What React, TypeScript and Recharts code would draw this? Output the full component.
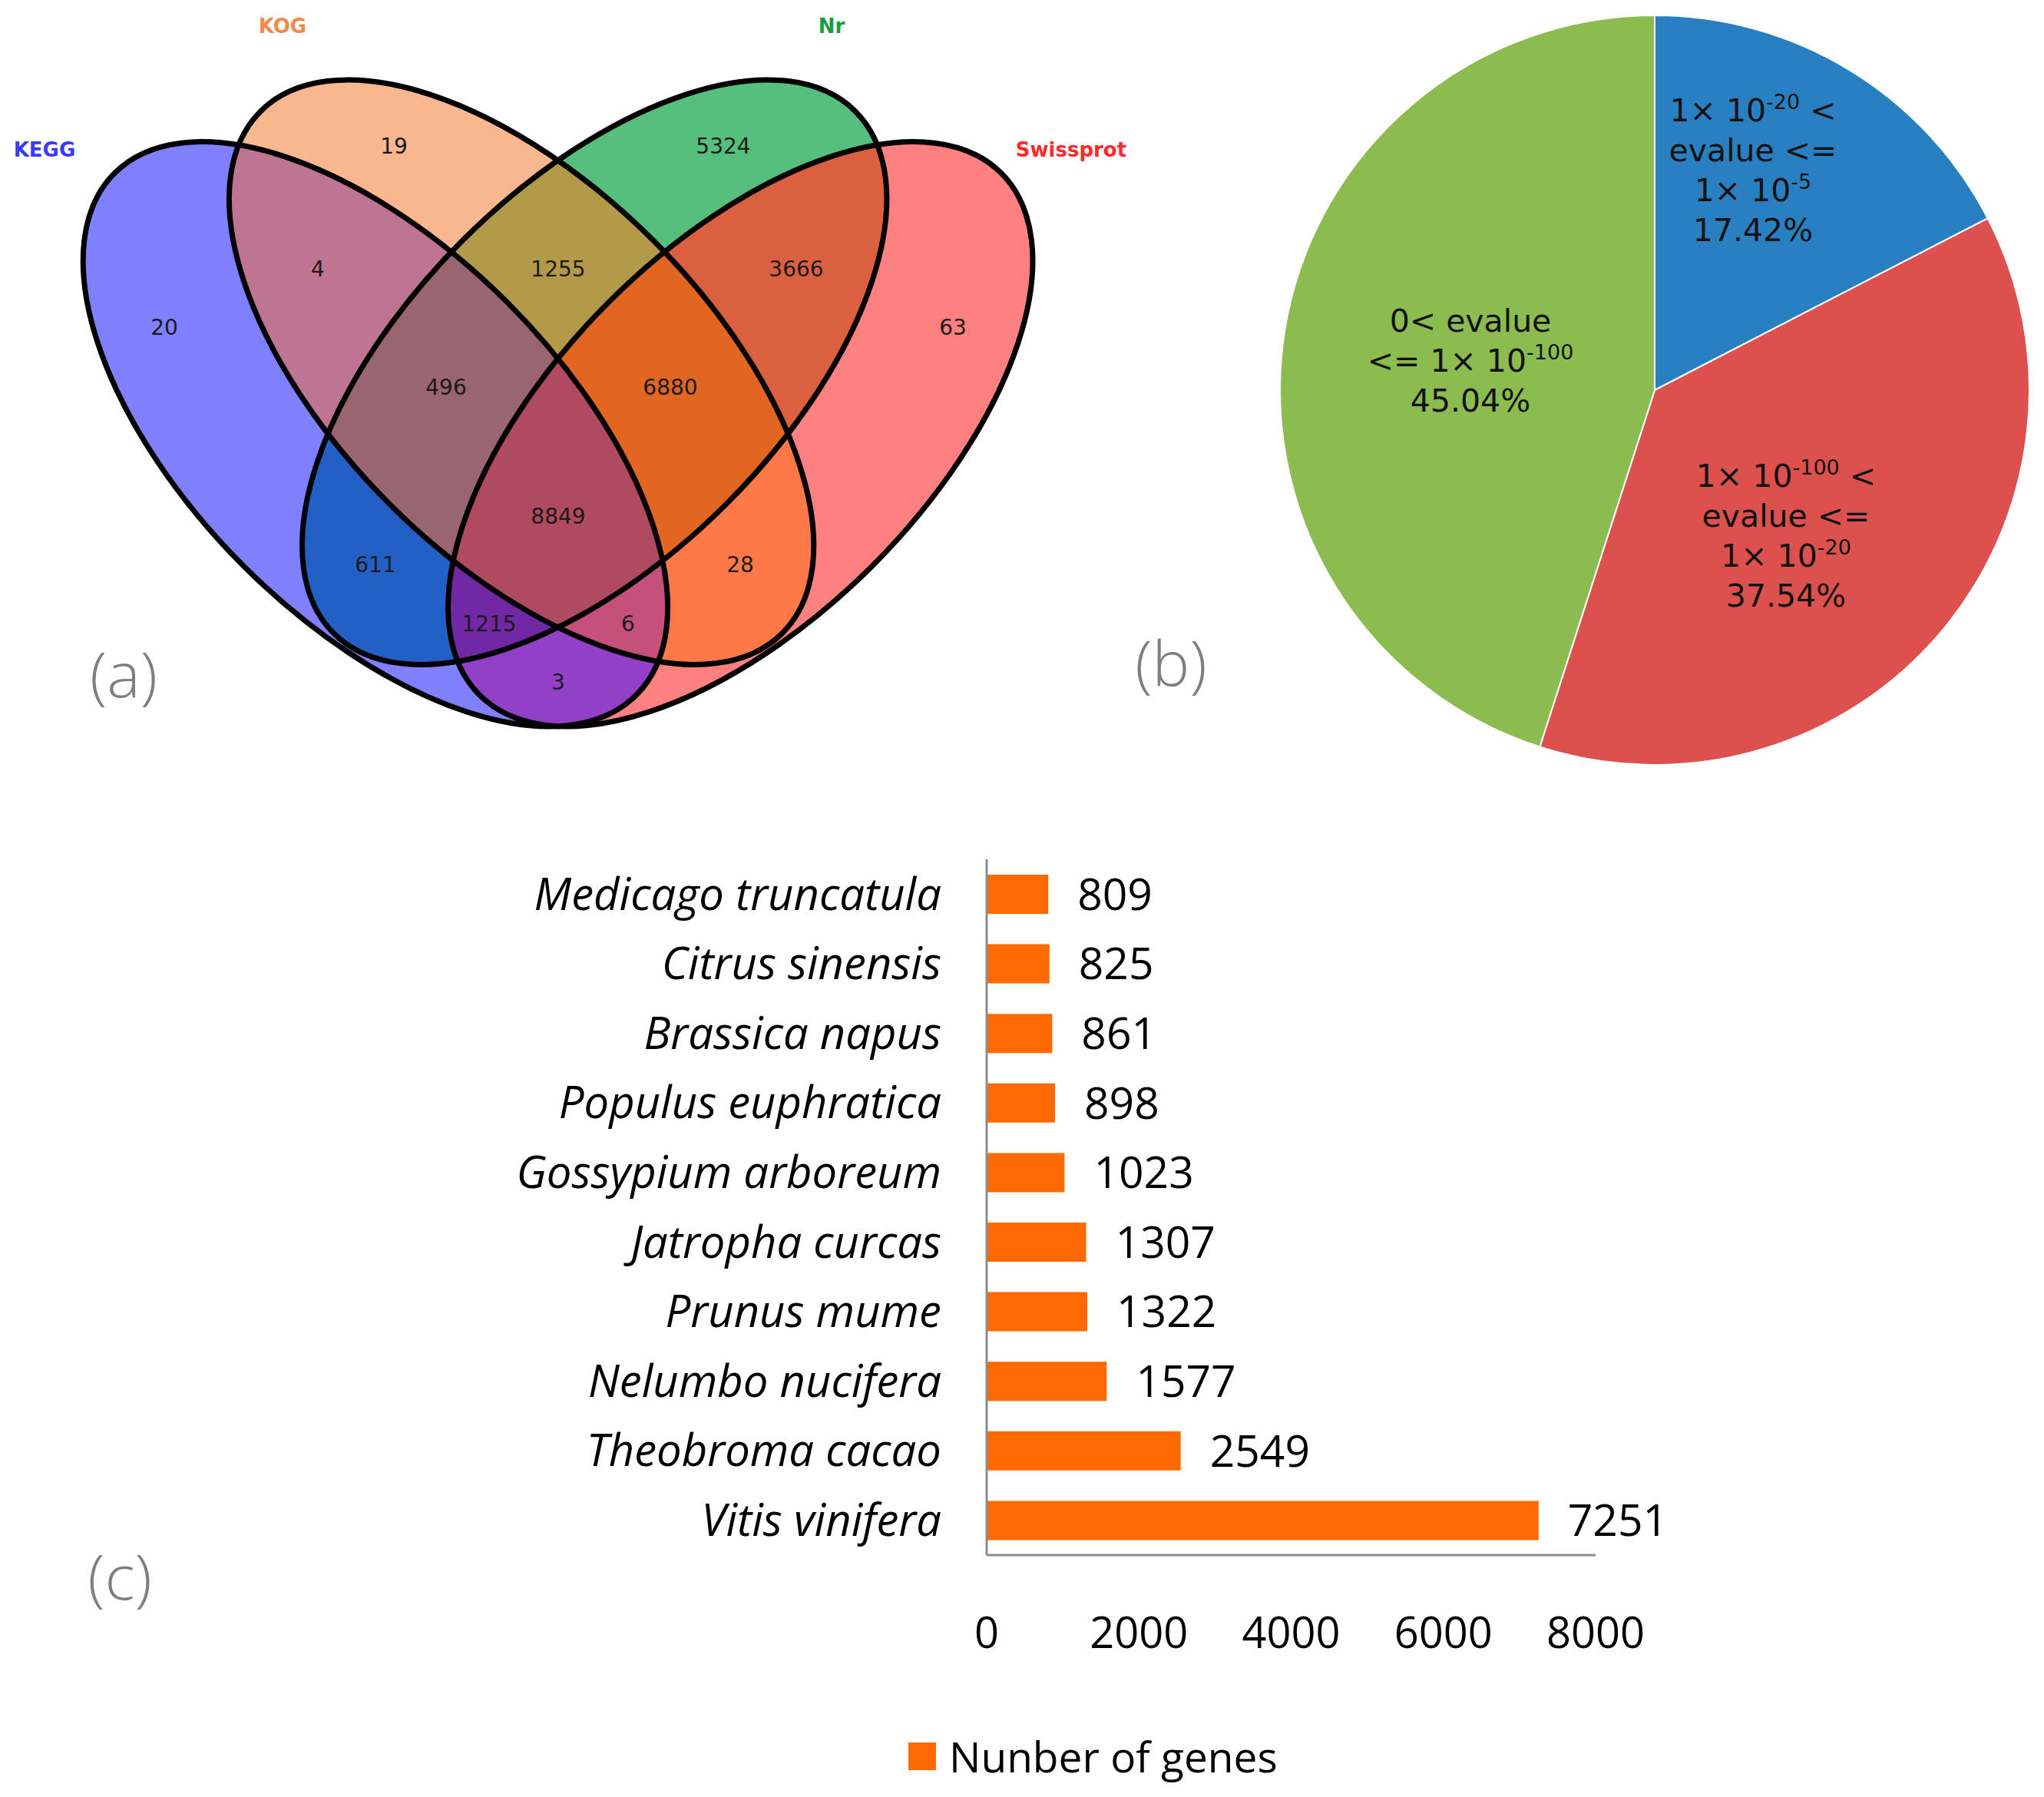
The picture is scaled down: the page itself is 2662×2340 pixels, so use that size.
import React from 'react'
import {
  ScatterChart, Scatter, XAxis, YAxis, Customized,
  PieChart, Pie, Cell, BarChart, Bar, LabelList, Legend,
} from 'recharts'

// ---- (a) venn counts ----
const vennSets = ['KEGG', 'KOG', 'Nr', 'Swissprot']
const vennKeys = ['K', 'O', 'N', 'S', 'KO', 'ON', 'NS', 'KS', 'KN', 'OS', 'KON', 'ONS', 'KNS', 'KOS', 'KONS']
const vennCounts = [20, 19, 5324, 63, 4, 1255, 3666, 3, 611, 28, 496, 6880, 1215, 6, 8849]

// ---- (b) evalue distribution ----
const pieValues = [17.42, 37.54, 45.04]
const pieNames = [
  '1× 10-20 < evalue <= 1× 10-5',
  '1× 10-100 < evalue <= 1× 10-20',
  '0< evalue <= 1× 10-100',
]

// ---- (c) top species ----
const species = [
  'Medicago truncatula', 'Citrus sinensis', 'Brassica napus', 'Populus euphratica',
  'Gossypium arboreum', 'Jatropha curcas', 'Prunus mume', 'Nelumbo nucifera',
  'Theobroma cacao', 'Vitis vinifera',
]
const geneCounts = [809, 825, 861, 898, 1023, 1307, 1322, 1577, 2549, 7251]
const xTicks = [0, 2000, 4000, 6000, 8000]

// layout / style
const SETCHARS = 'KONS'
const ELL = [
  { cx: 488.9, cy: 565.3, rot: 45 },
  { cx: 679.1, cy: 484.7, rot: 45 },
  { cx: 774.2, cy: 484.7, rot: -45 },
  { cx: 964.3, cy: 565.3, rot: -45 },
]
const RX = 480.5
const RY = 242.8
const regionFill: Record<string, string> = {
  K: '#8080FF', O: '#F8B78E', N: '#55C07E', S: '#FF8080',
  KO: '#BD7592', ON: '#B39A48', NS: '#DA6040', KS: '#9340C8', KN: '#2360C6', OS: '#FF7848',
  KON: '#996570', ONS: '#E06622', KNS: '#7028A4', KOS: '#C5507A', KONS: '#B04A60',
}
const vennLabelPos: Record<string, [number, number]> = {
  K: [214, 426], O: [513, 190], N: [942, 190], S: [1241, 426],
  KO: [414, 350], ON: [727, 350], NS: [1037, 350], KS: [727, 888], KN: [489, 735], OS: [964, 735],
  KON: [581, 504], ONS: [873, 504], KNS: [637, 812], KOS: [818, 812], KONS: [727, 672],
}
const setLabelPos: [number, number][] = [[58, 195], [368, 34], [1083, 34], [1395, 195]]
const setColors = ['#3A3AFF', '#F5884A', '#11A03A', '#FF2A2A']
const pieColors = ['#2980C0', '#DC504D', '#8CBB4F']
const pieLabelOffset: [number, number][] = [[128, -286], [171, 190], [-240, -38]]

type Seg = { t: string; sup?: boolean }
const pieLabelLines: Seg[][][] = [
  [[{ t: '1× 10' }, { t: '-20', sup: true }, { t: ' <' }], [{ t: 'evalue <=' }], [{ t: '1× 10' }, { t: '-5', sup: true }]],
  [[{ t: '1× 10' }, { t: '-100', sup: true }, { t: ' <' }], [{ t: 'evalue <=' }], [{ t: '1× 10' }, { t: '-20', sup: true }]],
  [[{ t: '0< evalue' }], [{ t: '<= 1× 10' }, { t: '-100', sup: true }]],
]

const vennData = vennKeys.map((k, i) => ({ key: k, x: vennLabelPos[k][0], y: vennLabelPos[k][1], count: vennCounts[i] }))
const pieData = pieValues.map((v, i) => ({ name: pieNames[i], value: v }))
const barData = species.map((s, i) => ({ name: s, value: geneCounts[i] }))

const SANS = '"Open Sans", sans-serif'
const VENN_FONT = '"DejaVu Sans", sans-serif'

function ellipseEl(i: number, extra: any = {}) {
  const e = ELL[i]
  return <ellipse cx={e.cx} cy={e.cy} rx={RX} ry={RY} transform={`rotate(${e.rot} ${e.cx} ${e.cy})`} {...extra} />
}

function VennShapes() {
  const sorted = [...vennKeys].sort((a, b) => a.length - b.length)
  return (
    <g>
      <defs>
        {ELL.map((_, i) => <clipPath id={`vclip${i}`} key={i}>{ellipseEl(i)}</clipPath>)}
      </defs>
      {sorted.map(key => {
        const idx = key.split('').map(c => SETCHARS.indexOf(c))
        let node = ellipseEl(idx[idx.length - 1], { fill: regionFill[key] })
        for (let j = idx.length - 2; j >= 0; j--) node = <g clipPath={`url(#vclip${idx[j]})`}>{node}</g>
        return <g key={key}>{node}</g>
      })}
      {ELL.map((_, i) => <g key={'o' + i}>{ellipseEl(i, { fill: 'none', stroke: '#000', strokeWidth: 7 })}</g>)}
      {vennSets.map((s, i) => (
        <text key={s} x={setLabelPos[i][0]} y={setLabelPos[i][1]} textAnchor="middle" dominantBaseline="central"
          fontFamily={VENN_FONT} fontWeight="bold" fontSize={26} fill={setColors[i]}>{s}</text>
      ))}
      <text x={161} y={876} textAnchor="middle" dominantBaseline="central" fontFamily={SANS} fontWeight={300} fontSize={82} fill="#7f7f7f">(a)</text>
    </g>
  )
}

function VennCount(props: any) {
  const { cx, cy, payload } = props
  return (
    <text x={cx} y={cy} textAnchor="middle" dominantBaseline="central" fontFamily={VENN_FONT} fontSize={28} fill="#1a1a1a">
      {payload.count}
    </text>
  )
}

function PieLabel(props: any) {
  const { cx, cy, index } = props
  const [dx, dy] = pieLabelOffset[index]
  const lines: Seg[][] = [...pieLabelLines[index], [{ t: pieValues[index].toFixed(2) + '%' }]]
  const n = lines.length
  return (
    <text textAnchor="middle" fontFamily='"DejaVu Sans", sans-serif' fontSize={41} fill="#111">
      {lines.map((segs, li) => {
        const y = cy + dy + (li - (n - 1) / 2) * 52 + 14
        let raised = false
        return (
          <tspan key={li} x={cx + dx} y={y}>
            {segs.map((s, si) => {
              let d = 0
              if (s.sup && !raised) { d = -16; raised = true }
              else if (!s.sup && raised) { d = 16; raised = false }
              return <tspan key={si} dy={d} fontSize={s.sup ? 27 : 41}>{s.t}</tspan>
            })}
          </tspan>
        )
      })}
    </text>
  )
}

function SpeciesTick(props: any) {
  const { x, y, payload } = props
  return (
    <text x={x} y={y} dy="0.35em" textAnchor="end" fontFamily={SANS} fontStyle="italic" fontSize={58} fill="#000">
      {payload.value}
    </text>
  )
}

function PanelLabel({ x, y, t }: { x: number; y: number; t: string }) {
  return <text x={x} y={y} textAnchor="middle" dominantBaseline="central" fontFamily={SANS} fontWeight={300} fontSize={82} fill="#7f7f7f">{t}</text>
}

function GenesLegend() {
  return (
    <div style={{ display: 'flex', alignItems: 'center', height: 60 }}>
      <span style={{ display: 'inline-block', width: 36, height: 36, background: '#FF6A00' }} />
      <span style={{ marginLeft: 17, fontFamily: SANS, fontSize: 55, lineHeight: '60px', color: '#000' }}>Nunber of genes</span>
    </div>
  )
}

export default function App() {
  return (
    <div style={{ position: 'absolute', left: 0, top: 0, width: 2662, height: 2340, background: '#fff' }}>
      <div style={{ position: 'absolute', left: 0, top: 0 }}>
        <ScatterChart width={1560} height={1000} margin={{ top: 0, right: 0, bottom: 0, left: 0 }}>
          <XAxis type="number" dataKey="x" domain={[0, 1560]} hide />
          <YAxis type="number" dataKey="y" domain={[0, 1000]} reversed hide />
          <Customized component={VennShapes} />
          <Scatter data={vennData} shape={VennCount} isAnimationActive={false} />
        </ScatterChart>
      </div>

      <div style={{ position: 'absolute', left: 1400, top: 0 }}>
        <PieChart width={1262} height={1020} margin={{ top: 0, right: 0, bottom: 0, left: 0 }}>
          <Pie data={pieData} dataKey="value" nameKey="name" cx={755} cy={508} outerRadius={488}
            startAngle={90} endAngle={-270} stroke="#fff" strokeWidth={2}
            label={PieLabel} labelLine={false} isAnimationActive={false}>
            {pieData.map((_, i) => <Cell key={i} fill={pieColors[i]} />)}
          </Pie>
          <Customized component={() => <PanelLabel x={125} y={861} t="(b)" />} />
        </PieChart>
      </div>

      <div style={{ position: 'absolute', left: 0, top: 1080 }}>
        <BarChart width={2662} height={1260} data={barData} layout="vertical"
          margin={{ top: 39, right: 584, bottom: 165, left: 0 }}>
          <XAxis type="number" domain={[0, 8000]} ticks={xTicks} height={150}
            axisLine={{ stroke: '#8c8c8c', strokeWidth: 3 }} tickLine={false} tickSize={0} tickMargin={81}
            tick={{ fontSize: 56, fontFamily: SANS, fill: '#000' }} interval={0} />
          <YAxis type="category" dataKey="name" width={1285}
            axisLine={{ stroke: '#8c8c8c', strokeWidth: 3 }} tickLine={false} tickSize={0} tickMargin={59}
            tick={SpeciesTick} interval={0} />
          <Bar dataKey="value" fill="#FF6A00" barSize={51} isAnimationActive={false}>
            <LabelList dataKey="value" position="right" offset={38}
              style={{ fontSize: 57, fontFamily: SANS, fill: '#000' }} />
          </Bar>
          <Legend layout="horizontal" verticalAlign="middle" align="center"
            wrapperStyle={{ top: 1177, left: 1183, width: 700, height: 60 }}
            content={() => <GenesLegend />} />
          <Customized component={() => <PanelLabel x={156} y={971} t="(c)" />} />
        </BarChart>
      </div>
    </div>
  )
}
